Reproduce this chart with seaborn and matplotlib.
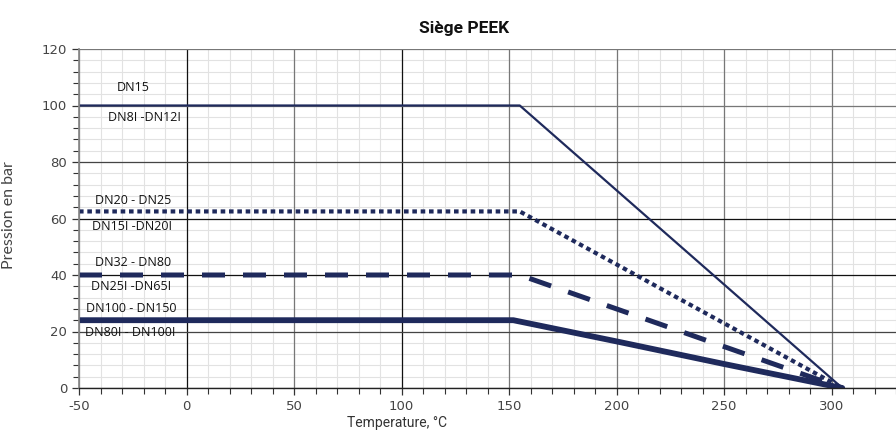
import matplotlib
matplotlib.use("Agg")
import matplotlib.pyplot as plt
import seaborn as sns
from matplotlib.ticker import MultipleLocator

# données
temp_dn15 = [-50, 155, 305]
pres_dn15 = [100, 100, 0]
temp_dn20 = [-50, 155, 305]
pres_dn20 = [62.5, 62.5, 0]
temp_dn32 = [-50, 155, 305]
pres_dn32 = [40, 40, 0]
temp_dn100 = [-50, 152, 200, 250, 305]
pres_dn100 = [24, 24, 16.5, 8.5, 0]

labels_haut = ["DN15", "DN20 - DN25", "DN32 - DN80", "DN100 - DN150"]
labels_bas = ["DN8I -DN12I", "DN15I -DN20I", "DN25I -DN65I", "DN80I - DN100I"]

navy = "#1f2a5c"

sns.set_theme(style="white")
plt.rcParams['font.family'] = ['DejaVu Sans']
plt.rcParams['axes.unicode_minus'] = False

fig = plt.figure(figsize=(8.96, 4.32), dpi=100)
rect = [79 / 896, 1 - 388 / 432, 817 / 896, (388 - 49) / 432]

# axe de fond : seulement la grille secondaire
bg = fig.add_axes(rect, zorder=0)
ax = fig.add_axes(rect, zorder=1)
ax.patch.set_alpha(0)

for a in (bg, ax):
    a.set_xlim(-50, 330)
    a.set_ylim(0, 120)
    a.xaxis.set_major_locator(MultipleLocator(50))
    a.xaxis.set_minor_locator(MultipleLocator(10))
    a.yaxis.set_major_locator(MultipleLocator(20))
    a.yaxis.set_minor_locator(MultipleLocator(4))

bg.xaxis.set_minor_locator(MultipleLocator(10))
bg.grid(which="both", color="#e2e2e2", lw=0.8, linestyle="-")
bg.tick_params(which="both", bottom=False, left=False, labelbottom=False, labelleft=False)
for s in bg.spines.values():
    s.set_visible(False)

sns.lineplot(x=temp_dn15, y=pres_dn15, ax=ax, color=navy, lw=1.6, sort=False)
l2 = sns.lineplot(x=temp_dn20, y=pres_dn20, ax=ax, color=navy, lw=3.0, sort=False).lines[-1]
l2.set_dashes((1.1, 0.9))
l2.set_dash_capstyle("butt")
l3 = sns.lineplot(x=temp_dn32, y=pres_dn32, ax=ax, color=navy, lw=3.6, sort=False).lines[-1]
l3.set_dashes((4.6, 3.6))
sns.lineplot(x=temp_dn100, y=pres_dn100, ax=ax, color=navy, lw=4.2, sort=False)

ax.set_xlim(-50, 330)
ax.set_ylim(0, 120)

ax.tick_params(which="both", direction="out", bottom=True, left=True, colors="#333333",
               labelsize=9.5, labelcolor="#444444")
ax.tick_params(which="major", length=5, width=0.9)
ax.tick_params(which="minor", length=4, width=0.8)

ax.grid(which="major", color="#777777", lw=0.9, linestyle="-")
ax.set_axisbelow(True)

# certaines lignes principales plus foncées, comme sur l'original
fig.canvas.draw()
for tick in ax.xaxis.get_major_ticks():
    if tick.get_loc() in (0, 100):
        tick.gridline.set_color("#111111")
for tick in ax.yaxis.get_major_ticks():
    if tick.get_loc() in (40, 60):
        tick.gridline.set_color("#111111")
    elif tick.get_loc() in (20, 80):
        tick.gridline.set_color("#444444")

for s in ["top", "right"]:
    ax.spines[s].set_visible(False)
ax.spines["left"].set_color("#888888")
ax.spines["bottom"].set_color("#222222")
ax.spines["bottom"].set_linewidth(1.0)

# étiquettes des courbes
pos_haut = [(-25, 106.2), (-25, 66.5), (-25, 44.6), (-25.5, 28.3)]
pos_bas = [(-19.5, 95.6), (-25.5, 57.3), (-25.8, 35.8), (-26, 19.8)]
for txt, (x, y) in zip(labels_haut, pos_haut):
    ax.text(x, y, txt, ha="center", va="center", fontsize=9, family="Open Sans", color="#111111")
for txt, (x, y) in zip(labels_bas, pos_bas):
    ax.text(x, y, txt, ha="center", va="center", fontsize=9, family="Open Sans", color="#111111")

ax.set_xlabel("")
ax.set_ylabel("")
fig.text(464 / 896, 1 - 28 / 432, "Siège PEEK", ha="center", va="center",
         fontsize=12.5, fontweight="bold", family="Roboto", color="#111111")
fig.text(397 / 896, 1 - 423 / 432, "Temperature, °C", ha="center", va="center",
         fontsize=10, family="Roboto", color="#333333")
fig.text(9 / 896, 1 - 215 / 432, "Pression en bar", ha="center", va="center", rotation=90,
         fontsize=11.5, family="Lato", color="#444444")

fig.savefig("out.png", dpi=100)
plt.close()
